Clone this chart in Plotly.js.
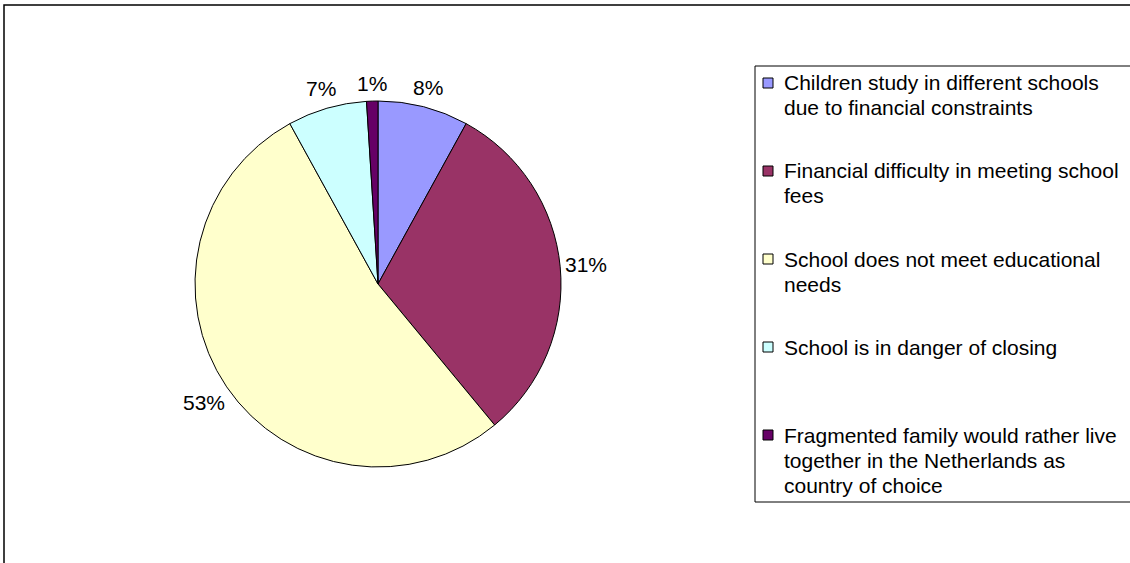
<!DOCTYPE html>
<html>
<head>
<meta charset="utf-8">
<script src="https://cdn.plot.ly/plotly-3.0.1.min.js"></script>
<style>html,body{margin:0;padding:0;background:#fff;}#chart{width:1130px;height:563px;}</style>
</head>
<body>
<div id="chart"></div>
<script>
var labels = [
  "Children study in different schools<br>due to financial constraints",
  "Financial difficulty in meeting school<br>fees",
  "School does not meet educational<br>needs",
  "School is in danger of closing",
  "Fragmented family would rather live<br>together in the Netherlands as<br>country of choice"
];
var values = [8, 31, 53, 7, 1];
var colors = ["#9999FF", "#993366", "#FFFFCC", "#CCFFFF", "#660066"];

var W = 1130, H = 563;
function px(x){ return x / W; }
function py(y){ return 1 - y / H; }

// pie geometry (pixels)
var cx = 378, cy = 284, R = 183;
var FONT = "Liberation Sans, Arial, sans-serif";
var FS = 21;

var trace = {
  type: "pie",
  labels: labels,
  values: values,
  sort: false,
  direction: "clockwise",
  rotation: 0,
  marker: {colors: colors, line: {color: "#000", width: 1}},
  textinfo: "none",
  domain: {x: [px(cx - R), px(cx + R)], y: [py(cy + R), py(cy - R)]},
  showlegend: false,
  automargin: false,
  hoverinfo: "label+percent"
};

var shapes = [
  // outer frame
  {type: "rect", xref: "paper", yref: "paper", x0: px(4), x1: px(1140), y0: py(5), y1: py(570),
   line: {color: "#000", width: 1.5}, fillcolor: "rgba(0,0,0,0)"},
  // legend box
  {type: "rect", xref: "paper", yref: "paper", x0: px(755), x1: px(1140), y0: py(66), y1: py(502),
   line: {color: "#000", width: 1}, fillcolor: "rgba(0,0,0,0)"}
];
var annotations = [];

// percentage labels placed just outside each slice at its mid-angle
var total = values.reduce(function(a, b){ return a + b; }, 0);
var cum = 0;
values.forEach(function(v){
  var frac = v / total;
  var mid = (cum + frac / 2) * 2 * Math.PI;
  cum += frac;
  var txt = Math.round(frac * 100) + "%";
  var hw = txt.length * 0.6 * FS / 2, hh = 11, gap = 6;
  var s = Math.sin(mid), c = Math.cos(mid);
  var r = R + gap + Math.abs(s) * hw + Math.abs(c) * hh;
  annotations.push({xref: "paper", yref: "paper", x: px(cx + r * s), y: py(cy - r * c),
    xanchor: "center", yanchor: "middle", showarrow: false, text: txt,
    font: {family: FONT, size: FS, color: "#000"}});
});

// legend
var itemTop = 83, itemGap = 88, lineGap = 25;
labels.forEach(function(lab, i){
  var yc = itemTop + i * itemGap;
  shapes.push({type: "rect", xref: "paper", yref: "paper",
    x0: px(763), x1: px(773), y0: py(yc - 5), y1: py(yc + 5),
    fillcolor: colors[i], line: {color: "#000", width: 1}});
  lab.split("<br>").forEach(function(line, j){
    annotations.push({xref: "paper", yref: "paper", x: px(782), y: py(yc + j * lineGap),
      xanchor: "left", yanchor: "middle", showarrow: false, text: line,
      font: {family: FONT, size: FS, color: "#000"}});
  });
});

var layout = {
  width: W, height: H,
  margin: {l: 0, r: 0, t: 0, b: 0},
  paper_bgcolor: "#fff",
  shapes: shapes,
  annotations: annotations,
  showlegend: false
};
Plotly.newPlot("chart", [trace], layout, {displayModeBar: false, staticPlot: true});
</script>
</body>
</html>
